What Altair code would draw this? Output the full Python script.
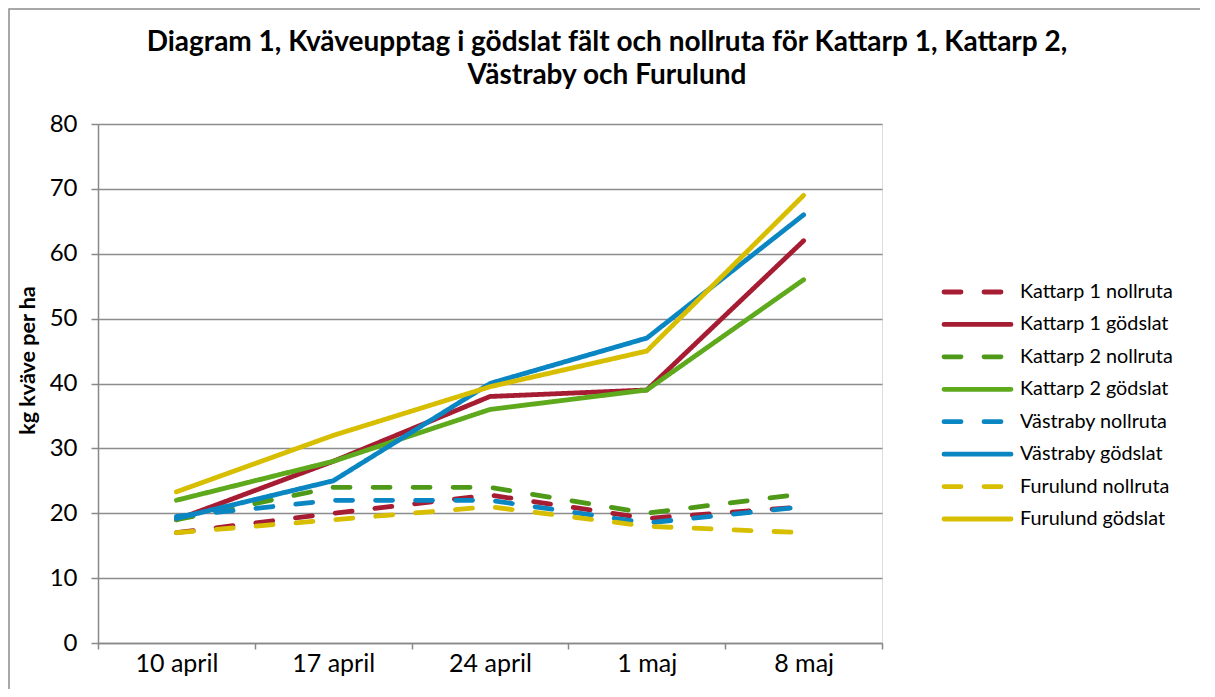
import altair as alt
import pandas as pd

dates = ["10 april", "17 april", "24 april", "1 maj", "8 maj"]
series_names = [
    "Kattarp 1 nollruta", "Kattarp 1 gödslat",
    "Kattarp 2 nollruta", "Kattarp 2 gödslat",
    "Västraby nollruta", "Västraby gödslat",
    "Furulund nollruta", "Furulund gödslat",
]
kattarp1_noll = [17, 20, 22.8, 19.2, 21]
kattarp1_gods = [19, 28, 38, 39, 62]
kattarp2_noll = [19, 24, 24, 20, 23]
kattarp2_gods = [22, 28, 36, 39, 56]
vastraby_noll = [19.5, 22, 22, 18.5, 21]
vastraby_gods = [19.2, 25, 40, 47, 66]
furulund_noll = [17, 19, 21, 18, 17]
furulund_gods = [23.3, 32, 39.5, 45, 69]

title_lines = ["Diagram 1, Kväveupptag i gödslat fält och nollruta för Kattarp 1, Kattarp 2,",
               "Västraby och Furulund"]

colors = ["#A61D33", "#A61D33", "#4E9A18", "#5EA91C",
          "#0A86C3", "#0A86C3", "#D8BE00", "#D8BE00"]
dash_patterns = [[17, 23], [1, 0], [17, 23], [1, 0],
                 [17, 23], [1, 0], [17, 23], [1, 0]]

values = [kattarp1_noll, kattarp1_gods, kattarp2_noll, kattarp2_gods,
          vastraby_noll, vastraby_gods, furulund_noll, furulund_gods]
rows = []
for name, vals in zip(series_names, values):
    for d, v in zip(dates, vals):
        rows.append({"datum": d, "serie": name, "kg": v})
df = pd.DataFrame(rows)

FONT = "Lato"
color_enc = alt.Color("serie:N", sort=series_names,
                      scale=alt.Scale(domain=series_names, range=colors), legend=None)
dash_enc = alt.StrokeDash("serie:N", sort=series_names,
                          scale=alt.Scale(domain=series_names, range=dash_patterns),
                          legend=None)

lines = alt.Chart(df).mark_line(strokeWidth=4.8, strokeCap="round", strokeJoin="round").encode(
    x=alt.X("datum:N", sort=dates, bandPosition=0.5,
            scale=alt.Scale(type="band", paddingInner=0, paddingOuter=0),
            axis=alt.Axis(title=None, labelAngle=0, tickBand="extent", grid=False,
                          domainColor="#888888", tickColor="#888888", tickSize=6,
                          domainWidth=1.5, tickWidth=1.5,
                          labelFontSize=25, labelFont=FONT, labelColor="#000000",
                          labelPadding=2)),
    y=alt.Y("kg:Q", scale=alt.Scale(domain=[0, 80], nice=False),
            axis=alt.Axis(values=list(range(0, 81, 10)), title="kg kväve per ha",
                          titleFont=FONT, titleFontSize=21.5, titleFontWeight="bold",
                          titleColor="#000000", titleX=-70, titleY=236,
                          titleAngle=-90, titleAlign="center", titleBaseline="middle",
                          gridColor="#8C8C8C", gridWidth=1.5,
                          domainColor="#888888", tickColor="#888888", tickSize=7,
                          domainWidth=1.5, tickWidth=1.5,
                          labelFontSize=24, labelFont=FONT, labelColor="#000000",
                          labelPadding=14)),
    color=color_enc,
    strokeDash=dash_enc,
    order=alt.Order("serie:N"),
)

legend_df = pd.DataFrame({"serie": series_names})
legend_y = alt.Y("serie:N", sort=series_names,
                 scale=alt.Scale(type="point", domain=series_names, range=[168, 395], padding=0),
                 axis=None)
legend_sym = alt.Chart(legend_df).mark_rule(strokeWidth=4.8, strokeCap="round").encode(
    x=alt.value(846), x2=alt.value(913), y=legend_y, color=color_enc, strokeDash=dash_enc,
)
legend_txt = alt.Chart(legend_df).mark_text(
    font=FONT, fontSize=19.8, color="#000000", align="left", baseline="middle"
).encode(x=alt.value(922), y=legend_y, text="serie:N")

frame = alt.Chart(pd.DataFrame({"a": [0]})).mark_rect(
    fill=None, stroke="#8C8C8C", strokeWidth=1.5, clip=False
).encode(
    x=alt.value(-89), y=alt.value(-115), x2=alt.value(1200), y2=alt.value(700)
)

title_df = pd.DataFrame({"line": title_lines, "row": [0, 1]})
title = alt.Chart(title_df).mark_text(
    font=FONT, fontSize=28, fontWeight="bold", color="#000000",
    align="center", baseline="middle"
).encode(
    text="line:N",
    x=alt.value(509),
    y=alt.Y("row:O", scale=alt.Scale(type="point", domain=[0, 1], range=[-81, -48], padding=0),
            axis=None),
)

chart = alt.layer(frame, lines, legend_sym, legend_txt, title).resolve_scale(
    y="independent"
).properties(
    width=784, height=519,
    padding={"left": 90, "top": 116, "right": 318, "bottom": 46},
    autosize=alt.AutoSizeParams(type="none"),
).configure_view(stroke=None).configure(background="white")

chart.save("out.html", embed_options={"renderer": "svg", "actions": False})
